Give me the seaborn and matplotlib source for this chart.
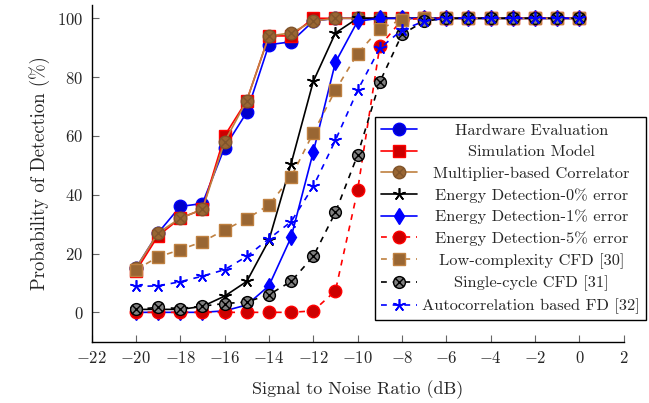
import numpy as np
import matplotlib
matplotlib.use("Agg")
import matplotlib.pyplot as plt
from matplotlib.path import Path
import seaborn as sns

# ---------------- data ----------------
snr = [-20, -19, -18, -17, -16, -15, -14, -13, -12, -11, -10,
       -9, -8, -7, -6, -5, -4, -3, -2, -1, 0]

hardware = [15, 27, 36, 37, 56, 68, 91, 92, 99, 100, 100,
            100, 100, 100, 100, 100, 100, 100, 100, 100, 100]
simulation = [14, 26, 32, 35, 60, 72, 94, 94, 100, 100, 100,
              100, 100, 100, 100, 100, 100, 100, 100, 100, 100]
multiplier = [15, 27, 32, 35, 58, 72, 94, 95, 99, 100, 100,
              100, 100, 100, 100, 100, 100, 100, 100, 100, 100]
ed0 = [1, 1, 1, 2, 5.5, 10.5, 24.5, 50.5, 78.5, 95, 100,
       100, 100, 100, 100, 100, 100, 100, 100, 100, 100]
ed1 = [0, 0, 0, 0, 0.5, 2.5, 9, 25.5, 54.5, 85, 99,
       100, 100, 100, 100, 100, 100, 100, 100, 100, 100]
ed5 = [0, 0, 0, 0, 0, 0, 0, 0, 0.5, 7.3, 41.5,
       90.5, 99.5, 100, 100, 100, 100, 100, 100, 100, 100]
low_cfd = [14.5, 18.8, 21.3, 24, 28, 31.8, 36.5, 46, 61, 75.5, 88,
           96.5, 99.5, 100, 100, 100, 100, 100, 100, 100, 100]
single_cfd = [1, 1.7, 1.3, 2.1, 3, 3.5, 6, 10.5, 19, 34, 53.5,
              78.3, 94.5, 99, 100, 100, 100, 100, 100, 100, 100]
autocorr = [8.8, 9, 10.4, 12.3, 14.5, 19, 25, 30.8, 42.8, 58.5, 75.5,
            89.8, 96, 99, 100, 100, 100, 100, 100, 100, 100]

labels = ["Hardware Evaluation", "Simulation Model", "Multiplier-based Correlator",
          "Energy Detection-0% error", "Energy Detection-1% error",
          "Energy Detection-5% error", "Low-complexity CFD [30]",
          "Single-cycle CFD [31]", "Autocorrelation based FD [32]"]

x_ticks = list(range(-22, 3, 2))
y_ticks = [0, 20, 40, 60, 80, 100]

# ---------------- style ----------------
sns.set_theme(style="white")
plt.rcParams.update({
    "font.family": ["cmr10", "DejaVu Serif"],
    "mathtext.fontset": "cm",
    "axes.formatter.use_mathtext": True,
    "axes.unicode_minus": True,
})

# custom markers
circ = Path.unit_circle()
d = 0.7071
seg1 = Path([(-d, -d), (d, d)], [Path.MOVETO, Path.LINETO])
seg2 = Path([(-d, d), (d, -d)], [Path.MOVETO, Path.LINETO])
otimes = Path.make_compound_path(circ, seg1, seg2)
asterisk = (5, 2, 0)

blue = (0, 0, 1)
blue_f = (0, 0, 0.8)
red = (1, 0, 0)
red_f = (0.8, 0, 0)
brown = (0.75, 0.5, 0.25)
brown_f = (0.6, 0.4, 0.2)
dash = (0, (3.5, 3.5))

series = [
    (hardware, dict(color=blue, marker="o", markersize=9, markerfacecolor=blue_f,
                    markeredgecolor=blue, linestyle="-")),
    (simulation, dict(color=red, marker="s", markersize=8.5, markerfacecolor=red_f,
                      markeredgecolor=red, linestyle="-")),
    (multiplier, dict(color=brown, marker=otimes, markersize=9, markerfacecolor=brown_f,
                      markeredgecolor=(0.5, 0.33, 0.17), linestyle="-")),
    (ed0, dict(color="black", marker=asterisk, markersize=9, markeredgecolor="black",
               markeredgewidth=1.2, linestyle="-")),
    (ed1, dict(color=blue, marker="d", markersize=8.5, markerfacecolor=blue,
               markeredgecolor=blue, linestyle="-")),
    (ed5, dict(color=red, marker="o", markersize=9, markerfacecolor=red_f,
               markeredgecolor=red, linestyle=dash)),
    (low_cfd, dict(color=brown, marker="s", markersize=9, markerfacecolor=brown_f,
                   markeredgecolor=brown, linestyle=dash)),
    (single_cfd, dict(color="black", marker=otimes, markersize=8.5,
                      markerfacecolor=(0.5, 0.5, 0.5), markeredgecolor="black",
                      linestyle=dash)),
    (autocorr, dict(color=blue, marker=asterisk, markersize=9, markeredgecolor=blue,
                    markeredgewidth=1.2, linestyle=dash)),
]

fig = plt.figure(figsize=(6.49, 4.03), dpi=100)
ax = fig.add_axes([0.141, 0.152, 0.82, 0.8355])

handles = []
for (vals, kw), lab in zip(series, labels):
    kw = dict(kw)
    mew = kw.pop("markeredgewidth", 1.0)
    sns.lineplot(x=snr, y=vals, ax=ax, linewidth=1.2, label=lab, legend=False,
                 markeredgewidth=mew, **kw)
    handles.append(ax.lines[-1])

ax.set_xlim(-22, 2)
ax.set_ylim(-10, 104.5)
ax.set_xticks(x_ticks)
ax.set_yticks(y_ticks)
ax.tick_params(axis="both", direction="in", length=5, width=0.8, color="#666666",
               labelsize=12, pad=6, bottom=True, left=True, top=False, right=False)
for side in ["top", "right"]:
    ax.spines[side].set_visible(False)
for side in ["left", "bottom"]:
    ax.spines[side].set_color("black")
    ax.spines[side].set_linewidth(1.0)
ax.set_facecolor("white")
ax.set_xlabel("Signal to Noise Ratio (dB)", fontsize=13, labelpad=10)
ax.set_ylabel("Probability of Detection (%)", fontsize=13.5, labelpad=5)

leg = ax.legend(handles, labels, loc="upper left", bbox_to_anchor=(0.533, 0.667),
                bbox_transform=ax.transAxes,
                borderaxespad=0, fontsize=11.8, frameon=True, fancybox=False,
                framealpha=1, edgecolor="black", handlelength=2.2,
                handletextpad=0.3, labelspacing=0.43, borderpad=0.38)
leg.get_frame().set_linewidth(1.0)

# center legend texts
fig.canvas.draw()
r = fig.canvas.get_renderer()
widths = [t.get_window_extent(r).width for t in leg.get_texts()]
mw = max(widths)
for t, w in zip(leg.get_texts(), widths):
    t.set_x((mw - w) / 2.0)

fig.savefig("out.png", dpi=100, facecolor="white")
